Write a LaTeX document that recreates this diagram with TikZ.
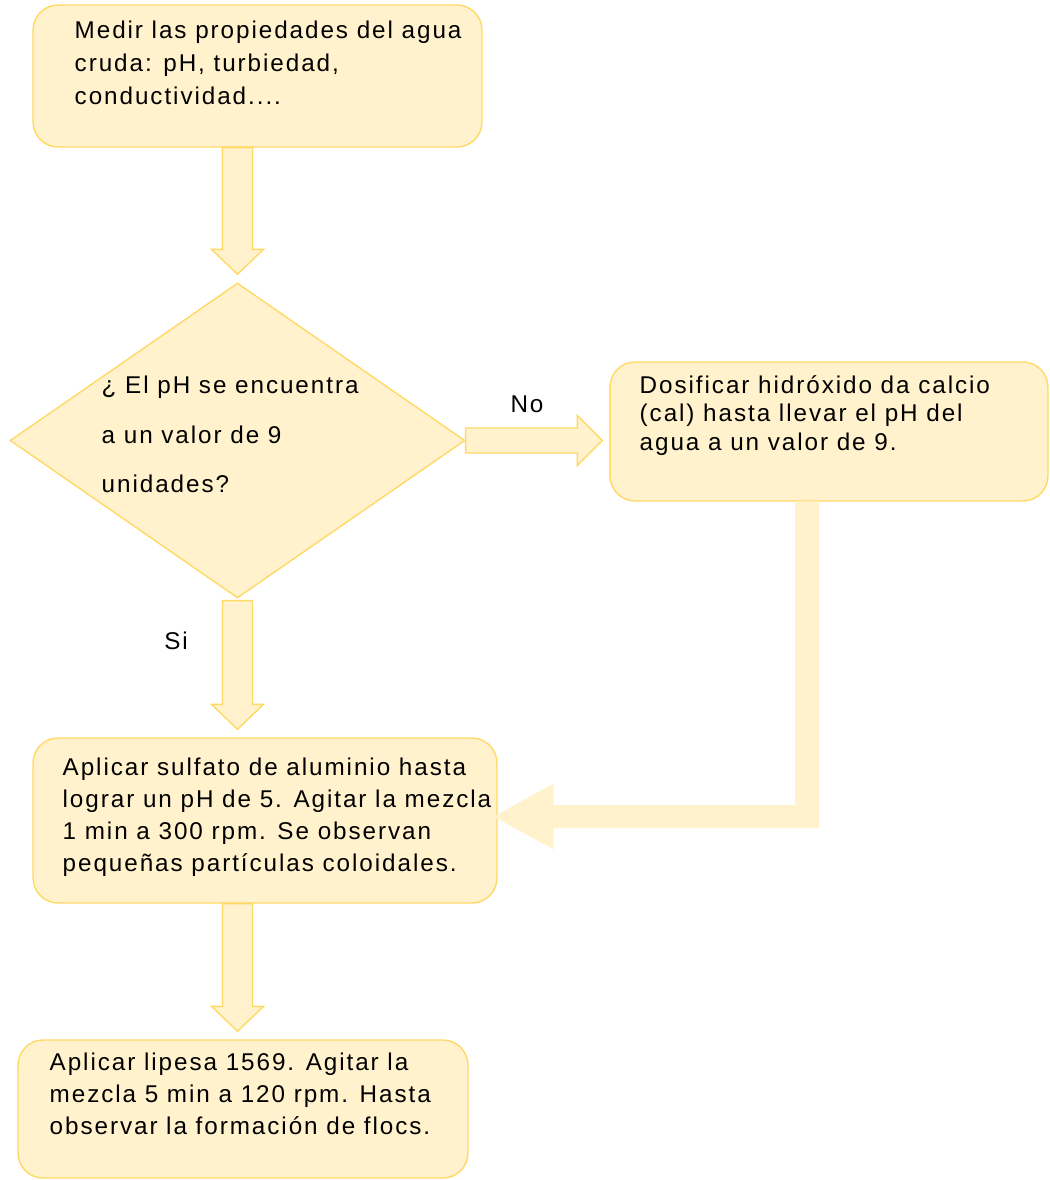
\documentclass[tikz,border=0pt]{standalone}
\usepackage{fontspec}
\setmainfont{Liberation Sans}[LetterSpace=8]
\usetikzlibrary{shapes.geometric,calc}

\definecolor{cajafondo}{HTML}{FFF2CC}
\definecolor{cajaborde}{HTML}{FFD966}

\begin{document}
\begin{tikzpicture}[x=0.02cm, y=-0.02cm,
    caja/.style={draw=cajaborde, fill=cajafondo, line width=0.8pt, rounded corners=0.5cm, inner sep=0pt},
    rombo/.style={diamond, draw=cajaborde, fill=cajafondo, line width=0.8pt, inner sep=0pt},
    texto/.style={anchor=north west, align=left, inner sep=0pt, font={\fontsize{13.8}{#1}\selectfont}},
    etiqueta/.style={inner sep=0pt, font={\fontsize{13.8}{16}\selectfont}},
    flechaabajo/.style={draw=cajaborde, fill=cajafondo, line width=0.8pt,
        to path={($(\tikztostart)+(-15,0)$) -- ($(\tikztotarget)+(-15,-33)$) -- ($(\tikztotarget)+(-26,-33)$)
            -- ($(\tikztotarget)+(0,-8)$) -- ($(\tikztotarget)+(26,-33)$) -- ($(\tikztotarget)+(15,-33)$)
            -- ($(\tikztostart)+(15,0)$) -- cycle}},
    flechader/.style={draw=cajaborde, fill=cajafondo, line width=0.8pt,
        to path={($(\tikztostart)+(0,-12.5)$) -- ($(\tikztotarget)+(-32,-12.5)$) -- ($(\tikztotarget)+(-32,-25)$)
            -- ($(\tikztotarget)+(-7,0)$) -- ($(\tikztotarget)+(-32,25)$) -- ($(\tikztotarget)+(-32,12.5)$)
            -- ($(\tikztostart)+(0,12.5)$) -- cycle}}]

    \useasboundingbox (0,0) rectangle (1050,1180);

    % cajas
    \node[caja, minimum width=8.98cm, minimum height=2.84cm] (medir) at (257.5,76) {};
    \node[rombo, minimum width=9.1cm, minimum height=6.3cm] (ph) at (237.5,440.5) {};
    \node[caja, minimum width=8.76cm, minimum height=2.78cm] (cal) at (829,431.5) {};
    \node[caja, minimum width=9.28cm, minimum height=3.3cm] (sulfato) at (265,820.5) {};
    \node[caja, minimum width=9cm, minimum height=2.76cm] (lipesa) at (243,1109) {};

    % textos
    \node[texto=19] (medir-t) at ($(medir.north west)+(42,16)$)
        {Medir las propiedades del agua\\cruda: pH, turbiedad,\\conductividad....};
    \node[texto=28] (ph-t) at ($(ph.west)+(92,-64.5)$)
        {¿ El pH se encuentra\\a un valor de 9\\unidades?};
    \node[texto=16.2] (cal-t) at ($(cal.north west)+(30,14)$)
        {Dosificar hidróxido da calcio\\(cal) hasta llevar el pH del\\agua a un valor de 9.};
    \node[texto=18.2] (sulfato-t) at ($(sulfato.north west)+(30,20)$)
        {Aplicar sulfato de aluminio hasta\\lograr un pH de 5. Agitar la mezcla\\1 min a 300 rpm. Se observan\\pequeñas partículas coloidales.};
    \node[texto=18.4] (lipesa-t) at ($(lipesa.north west)+(32,13)$)
        {Aplicar lipesa 1569. Agitar la\\mezcla 5 min a 120 rpm. Hasta\\observar la formación de flocs.};

    % flechas
    \coordinate (f1) at (ph.north |- medir.south);
    \coordinate (f3) at ($(ph.south)+(0,2)$);
    \coordinate (f3t) at (ph.south |- sulfato.north);
    \coordinate (f5) at (ph.south |- sulfato.south);
    \coordinate (f5t) at (ph.south |- lipesa.north);
    \coordinate (f2t) at (ph.east -| cal.west);
    \draw[flechaabajo] (f1) to (ph.north);
    \draw[flechader] (ph.east) to (f2t);
    \draw[flechaabajo] (f3) to (f3t);
    \draw[flechaabajo] (f5) to (f5t);

    \coordinate (punta) at ($(sulfato.east)+(-4,-4)$);
    \fill[cajafondo] ($(cal.south)+(-34,0)$) |- ($(punta)+(60,-11.5)$) -- ($(punta)+(60,-33)$) -- (punta)
        -- ($(punta)+(60,33)$) -- ($(punta)+(60,11.5)$) -| ($(cal.south)+(-10,0)$) -- cycle;

    \node[etiqueta] (no) at (527,404) {No};
    \node[etiqueta] (si) at (176,641) {Si};
\end{tikzpicture}
\end{document}
